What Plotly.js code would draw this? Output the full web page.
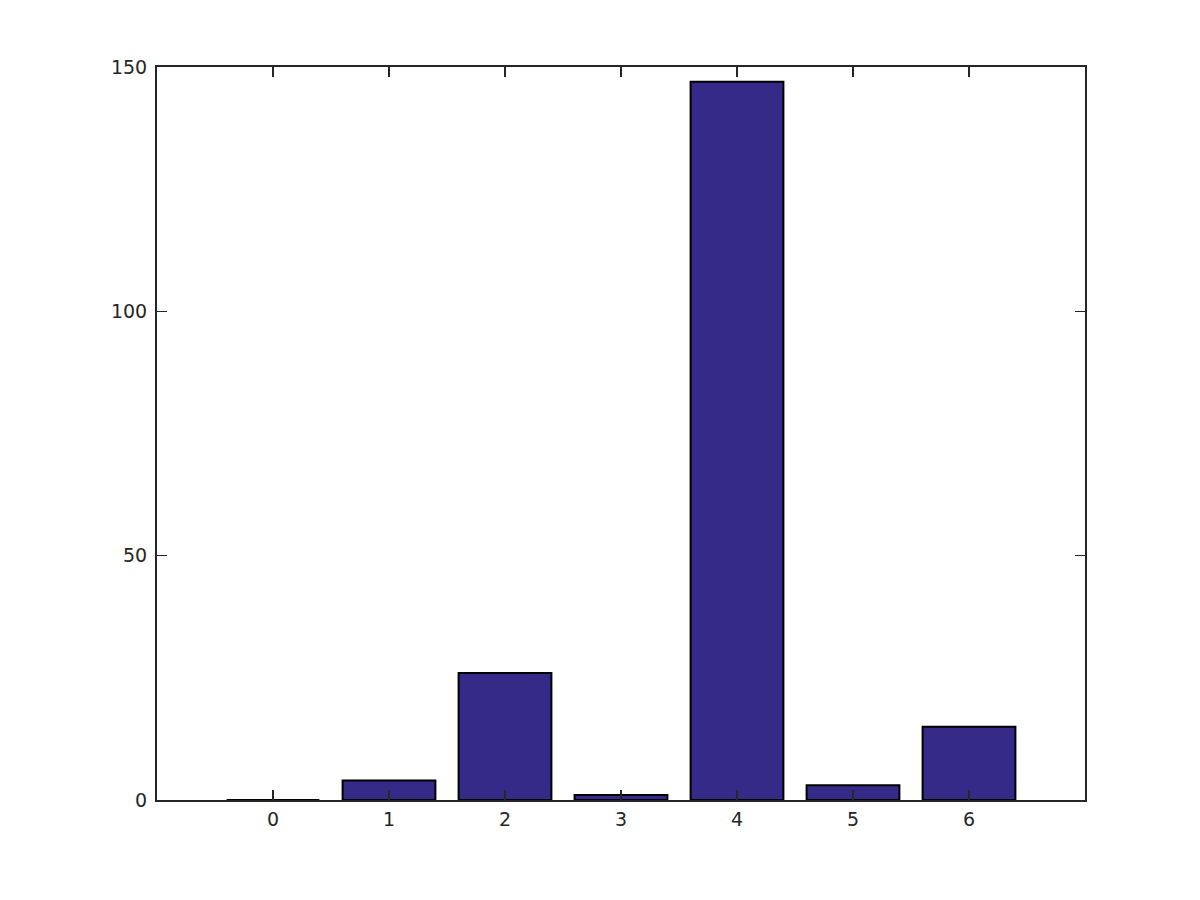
<!DOCTYPE html>
<html><head><meta charset="utf-8">
<script src="https://cdn.plot.ly/plotly-3.0.1.min.js"></script>
<style>body{margin:0;background:#fff}#c{width:1200px;height:900px}</style>
</head><body><div id="c"></div>
<script>
const categories = [0, 1, 2, 3, 4, 5, 6];
const counts = [0, 4, 26, 1, 147, 3, 15];
const yTicks = [0, 50, 100, 150];

Plotly.newPlot('c', [{
  type: 'bar', x: categories, y: counts, width: 0.8,
  marker: {color: '#352a87', line: {color: '#000', width: 2}},
  hoverinfo: 'none'
}], {
  width: 1200, height: 900,
  margin: {l: 157, r: 115, t: 67, b: 100},
  paper_bgcolor: '#fff', plot_bgcolor: '#fff',
  font: {family: 'DejaVu Sans', size: 19, color: '#262626'},
  showlegend: false,
  xaxis: {range: [-1, 7], tickvals: categories, ticks: 'inside', ticklen: 10, tickwidth: 1.5,
    tickcolor: '#262626', showline: true, linecolor: '#262626', linewidth: 2, mirror: 'ticks',
    showgrid: false, zeroline: false, ticklabelstandoff: 1},
  yaxis: {range: [0, 150], tickvals: yTicks, ticks: 'inside', ticklen: 10, tickwidth: 1.5,
    tickcolor: '#262626', showline: true, linecolor: '#262626', linewidth: 2, mirror: 'ticks',
    showgrid: false, zeroline: false, ticklabelstandoff: 4}
}, {staticPlot: true});
</script></body></html>
